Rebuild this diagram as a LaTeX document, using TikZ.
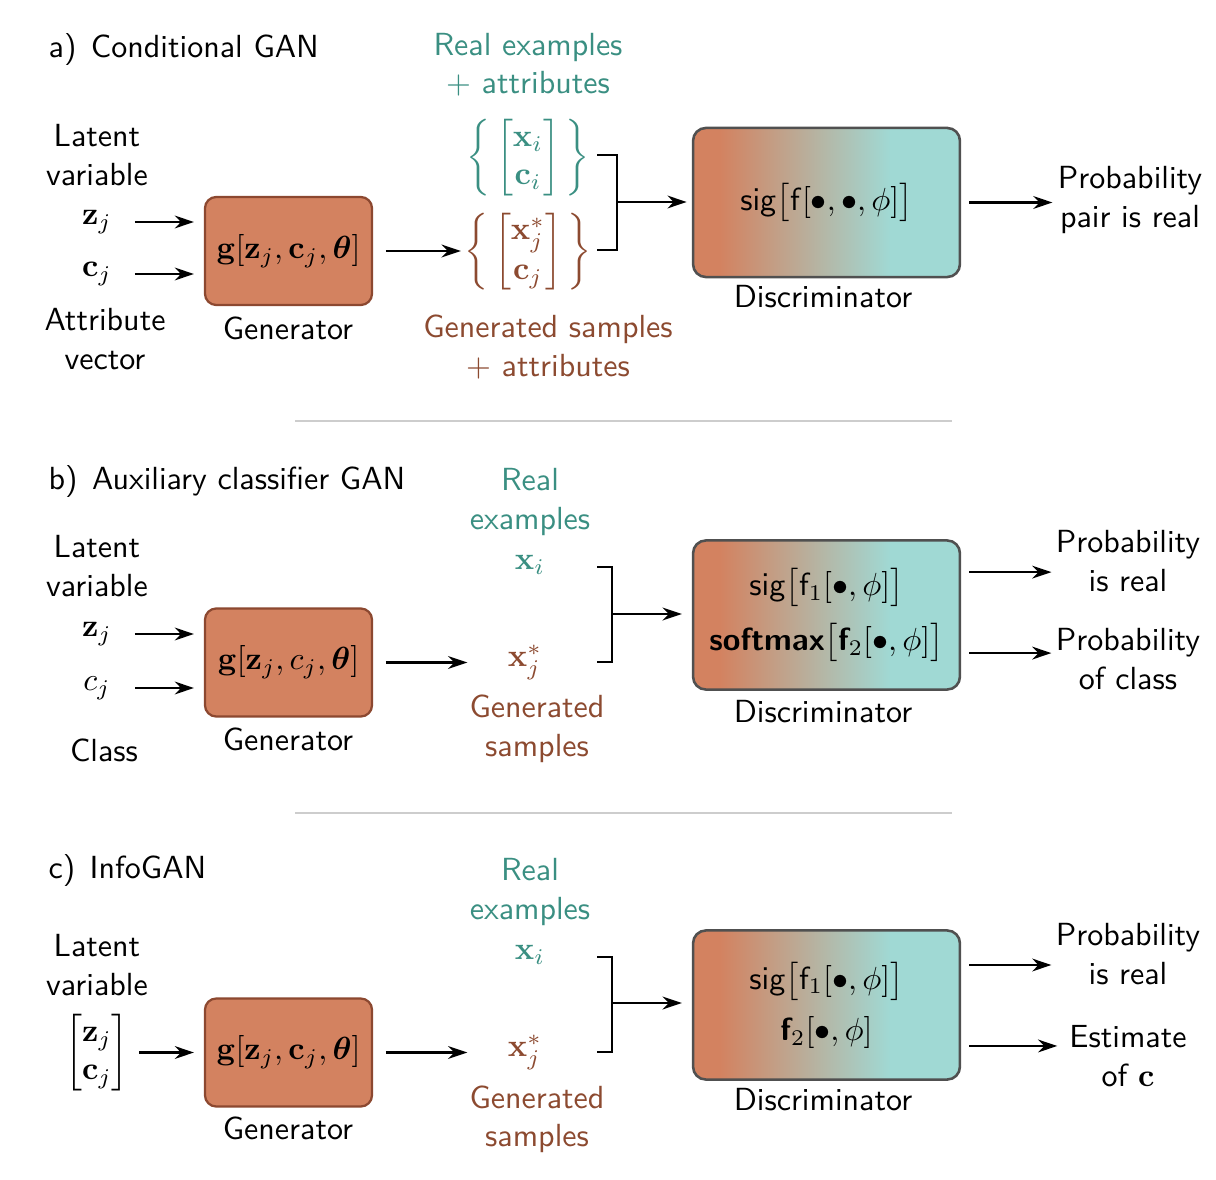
\documentclass[tikz,border=0pt]{standalone}
\usepackage{amsmath,bm}
\usetikzlibrary{arrows.meta}
\definecolor{genfill}{RGB}{211,130,96}
\definecolor{genborder}{RGB}{140,72,48}
\definecolor{discteal}{RGB}{160,217,212}
\definecolor{discborder}{RGB}{80,80,80}
\definecolor{realtxt}{RGB}{58,143,130}
\definecolor{gentxt}{RGB}{140,74,48}
\definecolor{sepgray}{RGB}{205,205,205}
\pgfdeclarehorizontalshading{discshade}{100bp}{color(0bp)=(genfill); color(30bp)=(genfill); color(62bp)=(discteal); color(100bp)=(discteal)}
\tikzset{
 arr/.style={-{Stealth[length=6pt,width=4pt]}, line width=0.7pt},
 genbox/.style={draw=genborder, line width=0.7pt, fill=genfill, rounded corners=3.5pt, minimum width=52.2pt, minimum height=33.75pt, inner sep=0pt},
 discbox/.style={draw=discborder, line width=0.8pt, shading=discshade, rounded corners=4pt, minimum width=83.4pt, minimum height=46.6pt, align=center, inner sep=0pt},
 lbl/.style={align=center, inner sep=0pt},
 real/.style={lbl, text=realtxt},
 fake/.style={lbl, text=gentxt},
 brk/.style={line width=0.7pt},
 sepline/.style={draw=sepgray, line width=0.6pt},
}
\begin{document}
\begin{tikzpicture}[x=0.3125pt,y=-0.3125pt,font=\sffamily]
\useasboundingbox (0,0) rectangle (1216,1180);
% ---------------- panel a
\node[lbl,anchor=west] (ta) at (48,50) {a)\hspace{4.5pt}Conditional GAN};
\node[lbl] (la) at (97,155) {Latent\\variable};
\node[lbl] (za) at (97,222) {$\mathbf{z}_j$};
\node[lbl] (ca) at (97,274) {$\mathbf{c}_j$};
\node[lbl] (aa) at (105,339) {Attribute\\vector};
\node[genbox] (ga) at (288.5,251) {$\mathbf{g}[\mathbf{z}_j,\mathbf{c}_j,\bm{\theta}]$};
\node[lbl] (gla) at (288,328) {Generator};
\node[real] (rla) at (528,65) {Real examples\\+ attributes};
\node[real] (rsa) at (528,158) {$\left\{\,\begin{bmatrix}\mathbf{x}_i\\ \mathbf{c}_i\end{bmatrix}\,\right\}$};
\node[fake] (fsa) at (528,252) {$\left\{\,\begin{bmatrix}\mathbf{x}^*_j\\ \mathbf{c}_j\end{bmatrix}\,\right\}$};
\node[fake] (fla) at (548,347) {Generated samples\\+ attributes};
\node[discbox] (da) at (826.5,202.5) {$\mathsf{sig}\bigl[\mathsf{f}[\bullet,\bullet,\phi]\bigr]$};
\node[lbl] (dla) at (823,297) {Discriminator};
\node[lbl] (oa) at (1130,200) {Probability\\pair is real};
\draw[arr, shorten <=7pt, shorten >=3.1pt] (za.east) -- (za.east -| ga.west);
\draw[arr, shorten <=7pt, shorten >=3.1pt] (ca.east) -- (ca.east -| ga.west);
\draw[arr, shorten <=4pt, shorten >=1pt] (ga.east) -- (ga.east -| fsa.west);
\coordinate (aT) at (597,155);
\coordinate (aB) at (597,250);
\coordinate (aJ) at (617,202);
\draw[brk] (aT) -| (aJ |- aB) -- (aB);
\draw[arr, shorten >=1.6pt] (aJ) -- (aJ -| da.west);
\draw[arr, shorten <=2.5pt, shorten >=1.5pt] (da.east) -- (da.east -| oa.west);
\draw[sepline] (295,421) -- (952,421);
% ---------------- panel b
\node[lbl,anchor=west] (tb) at (48,481) {b)\hspace{4.5pt}Auxiliary classifier GAN};
\node[lbl] (lb) at (97,566) {Latent\\variable};
\node[lbl] (zb) at (97,634) {$\mathbf{z}_j$};
\node[lbl] (cb) at (97,688) {$c_j$};
\node[lbl] (kb) at (104,750) {Class};
\node[genbox] (gb) at (288.5,662.5) {$\mathbf{g}[\mathbf{z}_j,c_j,\bm{\theta}]$};
\node[lbl] (glb) at (288,739) {Generator};
\node[real] (rlb) at (530,502) {Real\\examples};
\node[real] (xb) at (530,565) {$\mathbf{x}_i$};
\node[fake] (xsb) at (525,662) {$\mathbf{x}^*_j$};
\node[fake] (flb) at (537,729) {Generated\\samples};
\node[discbox] (db) at (826.5,615) {$\mathsf{sig}\bigl[\mathsf{f}_1[\bullet,\phi]\bigr]$\\[4pt]$\text{\sffamily\bfseries softmax}\bigl[\text{\sffamily\bfseries f}_2[\bullet,\phi]\bigr]$};
\node[lbl] (dlb) at (823,712) {Discriminator};
\node[lbl] (ob1) at (1128,561) {Probability\\is real};
\node[lbl] (ob2) at (1128,659) {Probability\\of class};
\draw[arr, shorten <=7pt, shorten >=3.1pt] (zb.east) -- (zb.east -| gb.west);
\draw[arr, shorten <=7.5pt, shorten >=3.1pt] (cb.east) -- (cb.east -| gb.west);
\draw[arr, shorten <=4pt, shorten >=12.5pt] (gb.east) -- (gb.east -| xsb.west);
\coordinate (bT) at (597,567);
\coordinate (bB) at (597,662);
\coordinate (bJ) at (612,614);
\draw[brk] (bT) -| (bJ |- bB) -- (bB);
\draw[arr, shorten >=3.1pt] (bJ) -- (bJ -| db.west);
\draw[arr, shorten <=2.5pt, shorten >=1.2pt] ([yshift=13.4pt]db.east) -- ([yshift=13.4pt]db.east -| ob1.west);
\draw[arr, shorten <=2.5pt, shorten >=1.2pt] ([yshift=-11.9pt]db.east) -- ([yshift=-11.9pt]db.east -| ob2.west);
\draw[sepline] (295,813) -- (952,813);
% ---------------- panel c
\node[lbl,anchor=west] (tc) at (48,870) {c)\hspace{4.5pt}InfoGAN};
\node[lbl] (lc) at (97,965) {Latent\\variable};
\node[lbl] (zc) at (97,1053) {$\begin{bmatrix}\mathbf{z}_j\\ \mathbf{c}_j\end{bmatrix}$};
\node[genbox] (gc) at (288.5,1052.5) {$\mathbf{g}[\mathbf{z}_j,\mathbf{c}_j,\bm{\theta}]$};
\node[lbl] (glc) at (288,1128) {Generator};
\node[real] (rlc) at (530,892) {Real\\examples};
\node[real] (xc) at (530,955) {$\mathbf{x}_i$};
\node[fake] (xsc) at (525,1052) {$\mathbf{x}^*_j$};
\node[fake] (flc) at (537,1119) {Generated\\samples};
\node[discbox] (dc) at (826.5,1005) {$\mathsf{sig}\bigl[\mathsf{f}_1[\bullet,\phi]\bigr]$\\[4pt]$\text{\sffamily\bfseries f}_2[\bullet,\phi]$};
\node[lbl] (dlc) at (823,1100) {Discriminator};
\node[lbl] (oc1) at (1128,954) {Probability\\is real};
\node[lbl] (oc2) at (1128,1056) {Estimate\\of $\mathbf{c}$};
\draw[arr, shorten <=3pt, shorten >=3.1pt] (zc.east |- gc.west) -- (gc.west);
\draw[arr, shorten <=4pt, shorten >=12.5pt] (gc.east) -- (gc.east -| xsc.west);
\coordinate (cT) at (597,957);
\coordinate (cB) at (597,1052);
\coordinate (cJ) at (612,1003);
\draw[brk] (cT) -| (cJ |- cB) -- (cB);
\draw[arr, shorten >=3.1pt] (cJ) -- (cJ -| dc.west);
\draw[arr, shorten <=2.5pt, shorten >=1.2pt] ([yshift=12.5pt]dc.east) -- ([yshift=12.5pt]dc.east -| oc1.west);
\draw[arr, shorten <=2.5pt, shorten >=3.6pt] ([yshift=-12.8pt]dc.east) -- ([yshift=-12.8pt]dc.east -| oc2.west);
\end{tikzpicture}
\end{document}
